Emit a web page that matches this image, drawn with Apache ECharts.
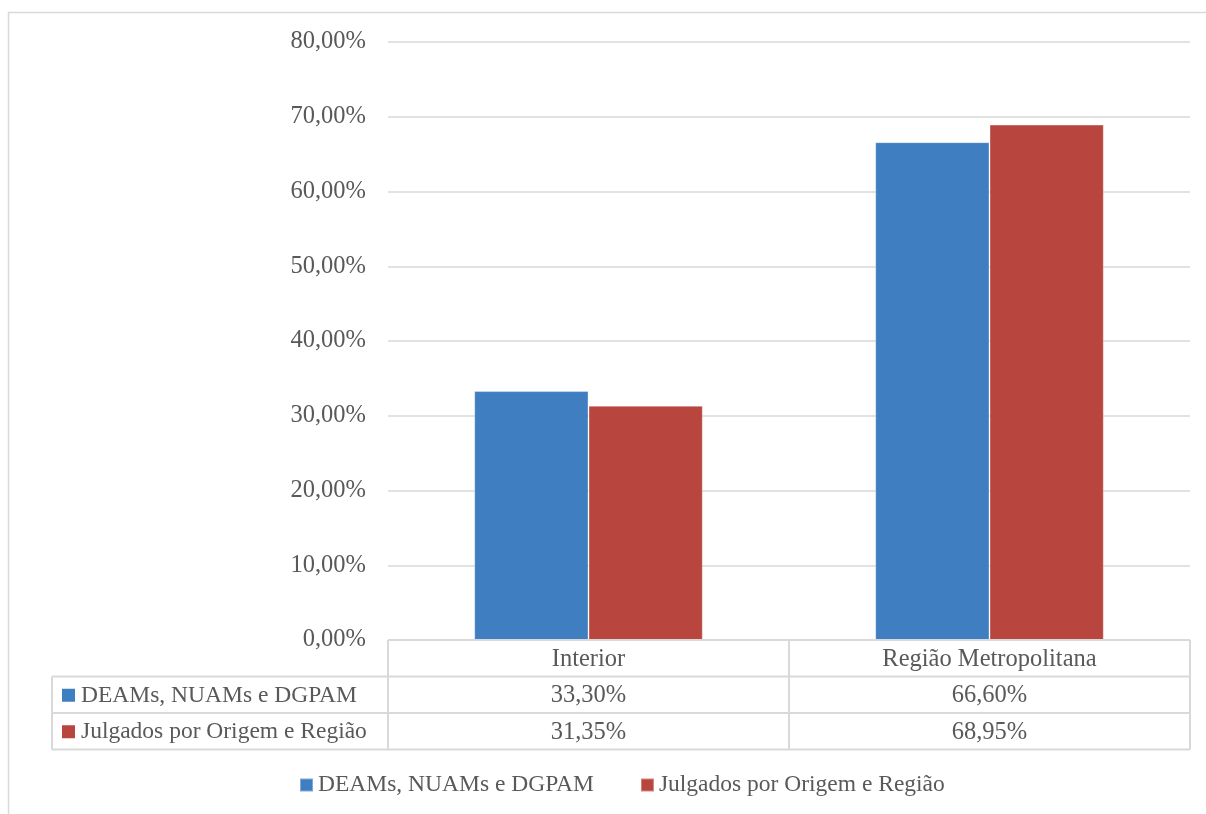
<!DOCTYPE html>
<html><head><meta charset="utf-8">
<script src="https://cdn.jsdelivr.net/npm/echarts@6/dist/echarts.min.js"></script>
<style>html,body{margin:0;padding:0;background:#fff}#c{width:1206px;height:814px}</style>
</head><body><div id="c"></div>
<script>
const categories = ['Interior', 'Região Metropolitana'];
const seriesNames = ['DEAMs, NUAMs e DGPAM', 'Julgados por Origem e Região'];
const deams = [33.30, 66.60];
const julgados = [31.35, 68.95];
const yTicks = [0, 10, 20, 30, 40, 50, 60, 70, 80];

const colors = ['#3E7EC1', '#B8463F'];
const FONT = 'Liberation Serif';
const TXT = '#595959';
const LINE = '#D9D9D9';
const fmt = v => v.toFixed(2).replace('.', ',') + '%';

const chart = echarts.init(document.getElementById('c'), null, {renderer: 'canvas'});
const option = {
  animation: false,
  backgroundColor: '#fff',
  grid: {left: 388, right: 16, top: 42, bottom: 174},
  legend: {
    bottom: 12, left: 294, itemWidth: 13, itemHeight: 13, itemGap: 46, icon: 'rect',
    textStyle: {fontFamily: FONT, fontSize: 23.5, color: TXT},
    data: seriesNames
  },
  xAxis: {
    type: 'category', data: categories,
    axisLine: {show: false}, axisTick: {show: false}, axisLabel: {show: false}
  },
  yAxis: {
    type: 'value', min: yTicks[0], max: yTicks[yTicks.length - 1], interval: 10,
    axisLine: {show: false}, axisTick: {show: false},
    splitLine: {lineStyle: {color: LINE, width: 1.5}},
    axisLabel: {formatter: v => fmt(v), fontFamily: FONT, fontSize: 24.5, color: TXT, margin: 22, padding: [6, 0, 0, 0]}
  },
  series: [
    {name: seriesNames[0], type: 'bar', data: deams, barGap: '0%', barCategoryGap: '43%',
     itemStyle: {color: colors[0], borderColor: 'rgba(255,255,255,0.35)', borderWidth: 1}},
    {name: seriesNames[1], type: 'bar', data: julgados, barGap: '0%', barCategoryGap: '43%',
     itemStyle: {color: colors[1], borderColor: 'rgba(255,255,255,0.35)', borderWidth: 1}}
  ]
};
chart.setOption(option);

// Data table beneath the plot
const x0 = chart.convertToPixel({xAxisIndex: 0}, 0);
const x1 = chart.convertToPixel({xAxisIndex: 0}, 1);
const yZero = chart.convertToPixel({yAxisIndex: 0}, 0);
const half = (x1 - x0) / 2;
const L = x0 - half, M = x0 + half, R = x1 + half;
const rowH = 36.5;
const r0 = yZero, r1 = r0 + rowH, r2 = r1 + rowH, r3 = r2 + rowH;
const tableLeft = 52;
const els = [];
const ln = (xa, ya, xb, yb) => els.push({type: 'line', shape: {x1: xa, y1: ya, x2: xb, y2: yb}, style: {stroke: LINE, lineWidth: 2}, z: 10});
const tx = (x, y, t, align, size) => els.push({type: 'text', x: x, y: y, style: {text: t, font: (size || 24.5) + 'px "' + FONT + '"', fill: TXT, align: align || 'center', verticalAlign: 'middle'}, z: 11});
// outer chart border
els.push({type: 'rect', shape: {x: 8.5, y: 12.5, width: 1210, height: 820}, style: {fill: null, stroke: LINE, lineWidth: 1.5}, z: 0});
// horizontal lines
ln(L, r0, R, r0);
ln(tableLeft, r1, R, r1);
ln(tableLeft, r2, R, r2);
ln(tableLeft, r3, R, r3);
// vertical lines
ln(tableLeft, r1, tableLeft, r3);
ln(L, r0, L, r3);
ln(M, r0, M, r3);
ln(R, r0, R, r3);
// header
categories.forEach((c, i) => tx(i === 0 ? x0 : x1, (r0 + r1) / 2 + 1, c));
const rows = [deams, julgados];
rows.forEach((arr, ri) => {
  const yc = (ri === 0 ? (r1 + r2) : (r2 + r3)) / 2 + 1;
  els.push({type: 'rect', shape: {x: 62, y: yc - 7, width: 13, height: 13}, style: {fill: colors[ri]}, z: 11});
  tx(81, yc, seriesNames[ri], 'left', 23.5);
  arr.forEach((v, ci) => tx(ci === 0 ? x0 : x1, yc, fmt(v)));
});
chart.setOption({graphic: {elements: els}});
</script></body></html>
